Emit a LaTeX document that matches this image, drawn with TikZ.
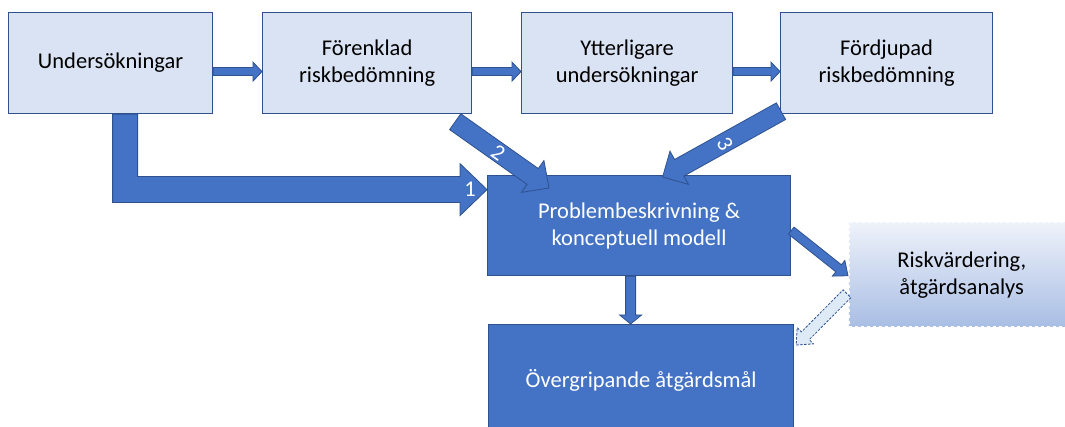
\documentclass[tikz,border=0pt]{standalone}
\usepackage{fontspec}
\setmainfont{Carlito}
\usetikzlibrary{calc}
\definecolor{lightbox}{HTML}{DAE3F3}
\definecolor{edgeblue}{HTML}{2F528F}
\definecolor{midblue}{HTML}{4472C4}
\definecolor{paleblue}{HTML}{DEEBF7}
\definecolor{risktop}{HTML}{EEF2FA}
\definecolor{riskbot}{HTML}{A9BEE4}
\newcommand{\boxfont}{\fontsize{22.5}{27}\selectfont}
% block arrow: #1 start, #2 tip, #3 half shaft, #4 half head, #5 head length, #6 style
\newcommand{\blockarr}[6]{%
  \path ($(#2)!#5!(#1)$) coordinate (bacc);
  \filldraw[#6] ($(#1)!#3!90:(#2)$) -- ($(bacc)!#3!90:(#2)$) -- ($(bacc)!#4!90:(#2)$) -- (#2)
    -- ($(bacc)!#4!-90:(#2)$) -- ($(bacc)!#3!-90:(#2)$) -- ($(#1)!#3!-90:(#2)$) -- cycle;}
\tikzset{
  lbox/.style={draw=edgeblue, line width=1.2pt, fill=lightbox, anchor=north west, inner sep=0pt,
    align=center, font=\boxfont, text=black, minimum height=101pt},
  dbox/.style={draw=edgeblue, line width=1.2pt, fill=midblue, anchor=north west, inner sep=0pt,
    align=center, font=\boxfont, text=white},
  rbox/.style={top color=risktop, bottom color=riskbot, draw=white, line width=1.5pt, dashed,
    anchor=north west, inner sep=0pt, align=center, font=\boxfont, text=black},
  arr/.style={fill=midblue, draw=edgeblue, line width=0.8pt, line join=miter},
  darr/.style={fill=paleblue, draw=edgeblue, line width=0.8pt, dash pattern=on 2.5pt off 1.5pt},
  lbl/.style={text=white, font=\boxfont, inner sep=0pt}
}
\begin{document}
\begin{tikzpicture}[x=1pt, y=-1pt]
\useasboundingbox (0,0) rectangle (1065,427);
\fill[white] (0,0) rectangle (1065,427);
\clip (0,0) rectangle (1065,427);

% boxes
\node[lbox, minimum width=204pt] (und) at (8,12) {Undersökningar};
\node[lbox, minimum width=209pt] (for) at (262,12) {Förenklad\\riskbedömning};
\node[lbox, minimum width=211pt] (ytt) at (521,12) {Ytterligare\\undersökningar};
\node[lbox, minimum width=212pt] (ford) at (780,12) {Fördjupad\\riskbedömning};
\node[dbox, minimum width=303pt, minimum height=100pt] (prob) at (487,175) {Problembeskrivning \&\\konceptuell modell};
\node[dbox, minimum width=305pt, minimum height=112pt] (overg) at (488,324) {Övergripande åtgärdsmål};
\node[rbox, minimum width=226pt, minimum height=104pt] (risk) at (848,222) {Riskvärdering,\\åtgärdsanalys};

% top row arrows
\coordinate (t1s) at ($(und.east)+(0,8.5)$);
\coordinate (t1e) at ($(for.west)+(0,8.5)$);
\blockarr{t1s}{t1e}{4pt}{9.5pt}{9pt}{arr}
\coordinate (t2s) at ($(for.east)+(0,8.5)$);
\coordinate (t2e) at ($(ytt.west)+(0,8.5)$);
\blockarr{t2s}{t2e}{4pt}{9.5pt}{9pt}{arr}
\coordinate (t3s) at ($(ytt.east)+(0,8.5)$);
\coordinate (t3e) at ($(ford.west)+(0,8.5)$);
\blockarr{t3s}{t3e}{4pt}{9.5pt}{9pt}{arr}

% arrow 1 (L-shaped)
\coordinate (a1s) at ($(und.south)+(14.5,0)$);
\coordinate (a1e) at ($(prob.west)+(0,-36)$);
\filldraw[arr] ($(a1s)+(-12.5,0)$) -- ($(a1s)+(12.5,0)$) -- ($(a1s |- a1e)+(12.5,-13)$)
  -- ($(a1e)+(-27,-13)$) -- ($(a1e)+(-27,-26)$) -- (a1e) -- ($(a1e)+(-27,26)$)
  -- ($(a1e)+(-27,13)$) -- ($(a1s |- a1e)+(-12.5,13)$) -- cycle;
\node[lbl] (l1) at ($(a1e)+(-17,0)$) {1};

% arrow 2
\coordinate (a2s) at ($(for.south east)+(-17,7.5)$);
\coordinate (a2e) at ($(prob.north west)+(62,13)$);
\blockarr{a2s}{a2e}{9.7pt}{19.5pt}{20pt}{arr}
\node[lbl, rotate=-35] (l2) at ($(for.south east)+(26,39)$) {2};

% arrow 3
\coordinate (a3s) at ($(ford.south west)+(1,-3)$);
\coordinate (a3e) at ($(prob.north)+(23.5,2)$);
\blockarr{a3s}{a3e}{9.5pt}{19pt}{19pt}{arr}
\node[lbl, rotate=-61] (l3) at ($(ford.south west)+(-55,30)$) {3};

% problem -> risk
\coordinate (a4s) at ($(prob.east)+(0,5)$);
\coordinate (a4e) at ($(risk.west)+(0,1)$);
\blockarr{a4s}{a4e}{4.5pt}{10pt}{12pt}{arr}

% problem -> overgripande
\coordinate (a5s) at ($(prob.south)+(-8.5,0)$);
\coordinate (a5e) at ($(overg.north)+(-10.5,0)$);
\blockarr{a5s}{a5e}{5pt}{11pt}{9pt}{arr}

% risk -> overgripande (dashed)
\coordinate (a6s) at ($(risk.west)+(-1,19)$);
\coordinate (a6e) at ($(overg.north east)+(2,21)$);
\blockarr{a6s}{a6e}{5.5pt}{11.5pt}{13pt}{darr}
\end{tikzpicture}
\end{document}
